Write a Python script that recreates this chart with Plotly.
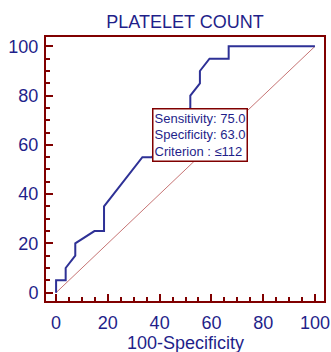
import plotly.graph_objects as go

# ROC curve points (100-Specificity, Sensitivity)
fpr = [0, 0, 3.70, 3.70, 7.41, 7.41, 14.81, 18.52, 18.52, 33.33, 37.04, 44.44, 48.15, 51.85, 51.85, 55.56, 55.56, 59.26, 66.67, 66.67, 100]
tpr = [0, 5, 5, 10, 15, 20, 25, 25, 35, 55, 55, 65, 70, 75, 80, 85, 90, 95, 95, 100, 100]
diag_x = [0, 100]
diag_y = [0, 100]
x_ticks = [0, 20, 40, 60, 80, 100]
y_ticks = [0, 20, 40, 60, 80, 100]
title_text = "PLATELET COUNT"
x_title = "100-Specificity"
box_lines = ["Sensitivity: 75.0", "Specificity: 63.0", "Criterion : \u2264112"]
box_x, box_y = 37.04, 75

AXIS = "#800000"
TEXT = "#1f1f8a"
FONT = "Liberation Sans, Arial, sans-serif"

fig = go.Figure()
fig.add_trace(go.Scatter(x=diag_x, y=diag_y, mode="lines",
                         line=dict(color="#b85050", width=0.8), hoverinfo="skip"))
fig.add_trace(go.Scatter(x=fpr, y=tpr, mode="lines",
                         line=dict(color="#2e3196", width=2)))

axis_common = dict(
    showline=True, linecolor=AXIS, linewidth=2, mirror=True,
    ticks="inside", ticklen=7, tickwidth=2, tickcolor=AXIS,
    showgrid=False, zeroline=False, automargin=False,
    tickfont=dict(family=FONT, size=18, color=TEXT),
    minor=dict(ticks="inside", ticklen=4, tickwidth=1.5, tickcolor=AXIS, dtick=5, showgrid=False),
)

fig.update_layout(
    width=331, height=352,
    margin=dict(l=46, r=7, t=37, b=51),
    paper_bgcolor="white", plot_bgcolor="white",
    showlegend=False,
    font=dict(family=FONT, color=TEXT),
    title=dict(text=title_text, x=0.5, xanchor="center", y=1 - 22/352, yanchor="middle",
               xref="paper", yref="container", font=dict(family=FONT, size=18, color=TEXT)),
    xaxis=dict(range=[-3.9, 103.5], tickvals=x_ticks, ticklabelstandoff=4, **axis_common),
    yaxis=dict(range=[-3.4, 103.8], tickvals=y_ticks, ticklabelstandoff=2, **axis_common),
)

fig.add_annotation(
    x=0.5, y=-0.16, xref="paper", yref="paper", xanchor="center", yanchor="middle",
    text=x_title, showarrow=False,
    font=dict(family=FONT, size=18, color=TEXT),
)

fig.add_annotation(
    x=box_x, y=box_y, xref="x", yref="y", xanchor="left", yanchor="top",
    text="<br>".join(box_lines), showarrow=False, align="left",
    font=dict(family=FONT, size=13, color=TEXT),
    bgcolor="white", bordercolor=AXIS, borderwidth=1.5, borderpad=1,
)

fig.write_html("out.html", config={"displayModeBar": False},
               post_script="document.body.style.margin='0';document.body.style.overflow='hidden';")
